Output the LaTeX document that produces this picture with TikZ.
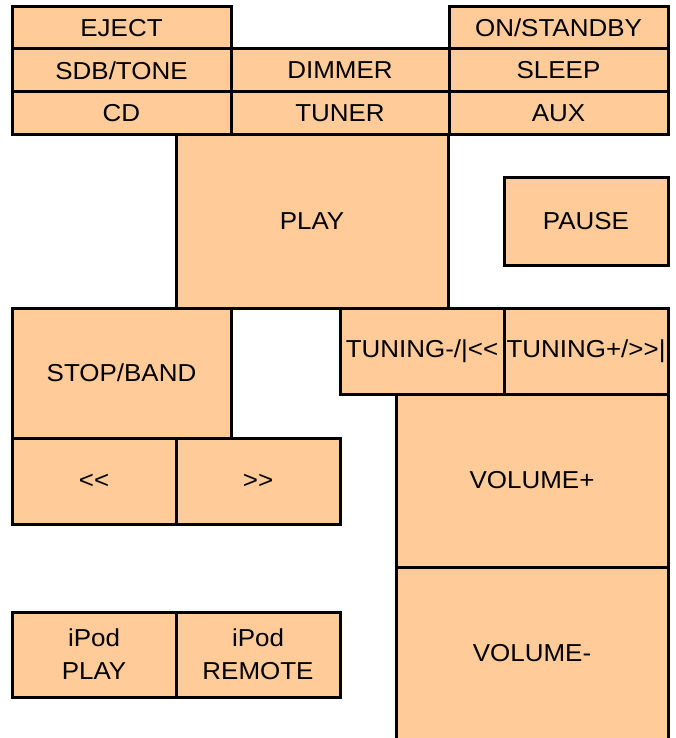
\documentclass[tikz,border=0pt]{standalone}
\usepackage{fontspec}
\setmainfont[Ligatures=TeXOff, FakeStretch=1.06]{Liberation Sans}
\definecolor{peach}{HTML}{FFCC99}
\tikzset{btn/.style={draw=black, fill=peach, line width=3pt, inner sep=0pt, outer sep=0pt,
  font=\fontsize{24.5}{33}\selectfont, align=center, text=black}}
\newcommand\btn[6]{\node[btn, minimum width={#4pt-#2pt}, minimum height={#5pt-#3pt}] (#1) at ({(#2+#4)/2},{(#3+#5)/2}) {#6};}
\begin{document}
\begin{tikzpicture}[x=1pt,y=-1pt]
\useasboundingbox (0,0) rectangle (676,738);
\clip (0,0) rectangle (676,738);
\btn{eject}{12}{7}{231}{49}{EJECT}
\btn{onstandby}{449}{7}{668}{49}{ON/STANDBY}
\btn{sdb}{12}{49}{231}{92}{SDB/TONE}
\btn{dimmer}{231}{49}{449}{92}{DIMMER}
\btn{sleep}{449}{49}{668}{92}{SLEEP}
\btn{cd}{12}{92}{231}{135}{CD}
\btn{tuner}{231}{92}{449}{135}{TUNER}
\btn{aux}{449}{92}{668}{135}{AUX}
\btn{play}{176}{135}{448}{308}{PLAY}
\btn{pause}{504}{178}{668}{265}{PAUSE}
\btn{stop}{12}{308}{231}{438}{STOP/BAND}
\btn{tunminus}{340}{308}{504}{394}{TUNING-/|<<}
\btn{tunplus}{504}{308}{668}{394}{TUNING+/>>|}
\btn{rew}{12}{438}{176}{524}{<<}
\btn{ffw}{176}{438}{340}{524}{>>}
\btn{volplus}{396}{394}{668}{567}{VOLUME+}
\btn{volminus}{396}{567}{668}{740}{VOLUME-}
\btn{ipodplay}{12}{612}{176}{697}{iPod\\PLAY}
\btn{ipodremote}{176}{612}{340}{697}{iPod\\REMOTE}
\end{tikzpicture}
\end{document}
